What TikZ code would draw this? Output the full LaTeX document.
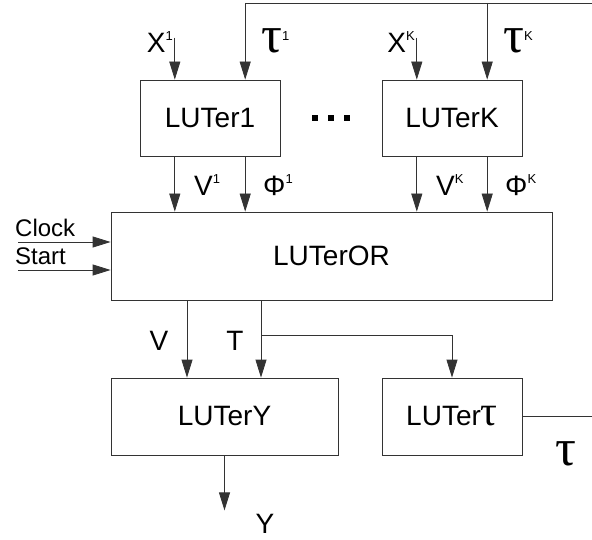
\documentclass[tikz,border=0pt]{standalone}
\usepackage{fontspec}
\setmainfont{Liberation Sans}
\newfontfamily\greekfont{Liberation Serif}
\usetikzlibrary{arrows.meta,positioning,calc}
\definecolor{linegray}{gray}{0.2}
\newcommand{\upidx}[1]{\raisebox{12pt}{\fontsize{13}{13}\selectfont #1}}
\newcommand{\tausym}{{\greekfont\fontsize{52}{52}\selectfont τ}}

\begin{document}
\begin{tikzpicture}[x=1pt,y=-1pt,
    block/.style={draw=linegray, line width=0.8pt, fill=white, inner sep=0pt,
                  font=\fontsize{28}{30}\selectfont},
    wire/.style={draw=linegray, line width=0.8pt},
    arr/.style={wire, -{Triangle[length=18pt,width=11pt]}},
    lbl/.style={inner sep=0pt, font=\fontsize{28}{30}\selectfont},
    small/.style={inner sep=0pt, font=\fontsize{24}{26}\selectfont}]
    \useasboundingbox (0,0) rectangle (592,540);

    % blocks
    \node[block, minimum width=140, minimum height=76] (lut1) at (210,118) {LUTer1};
    \node[block, minimum width=140, minimum height=76] (lutK) at (452,118) {LUTerK};
    \node[block, minimum width=441, minimum height=88] (lutor) at (331.5,256) {LUTerOR};
    \node[block, minimum width=227, minimum height=77] (luty) at (224.5,416.5) {LUTerY};
    \node[block, minimum width=140, minimum height=77] (luttau) at (452,416.5)
        {LUTer{\greekfont\fontsize{42}{42}\selectfont τ}};

    % dots between the first and the last block
    \foreach \dx in {315,331,347} {
        \fill[black] (\dx-3,115) rectangle (\dx+3,121);
    }

    % ports on the blocks
    \path (lut1.north west) -- (lut1.north east) coordinate[pos=0.25] (x1in) coordinate[pos=0.75] (t1in);
    \path (lutK.north west) -- (lutK.north east) coordinate[pos=0.25] (xKin) coordinate[pos=0.75] (tKin);
    \path (lut1.south west) -- (lut1.south east) coordinate[pos=0.25] (v1out) coordinate[pos=0.75] (f1out);
    \path (lutK.south west) -- (lutK.south east) coordinate[pos=0.25] (vKout) coordinate[pos=0.75] (fKout);
    \coordinate (vout) at (lutor.south -| 187,0);
    \coordinate (tout) at (lutor.south -| 261,0);

    % inputs of LUTer1 ... LUTerK
    \draw[arr] (x1in) ++(0,-42) -- (x1in);
    \draw[arr] (xKin) ++(0,-42) -- (xKin);
    \node[lbl, anchor=base east] (x1lbl) at (173,53) {X\upidx{1}};
    \node[lbl, anchor=base east] (xKlbl) at (415,53) {X\upidx{K}};

    % feedback of tau
    \coordinate (fbtop) at (t1in |- 0,3);
    \draw[wire] (luttau.east) -- ++(80,0) coordinate (fbr) |- (fbtop);
    \draw[arr] (fbtop) -- (t1in);
    \draw[arr] (fbtop -| tKin) -- (tKin);
    \node[inner sep=0pt, anchor=base west] (t1lbl) at (261,53) {\tausym\upidx{1}};
    \node[inner sep=0pt, anchor=base west] (tKlbl) at (503,53) {\tausym\upidx{K}};

    % into LUTerOR
    \draw[arr] (v1out) -- (v1out |- lutor.north);
    \draw[arr] (f1out) -- (f1out |- lutor.north);
    \draw[arr] (vKout) -- (vKout |- lutor.north);
    \draw[arr] (fKout) -- (fKout |- lutor.north);
    \node[lbl, anchor=base west] (v1lbl) at (194,196) {V\upidx{1}};
    \node[lbl, anchor=base west] (f1lbl) at (263,196) {Φ\upidx{1}};
    \node[lbl, anchor=base west] (vKlbl) at (436,196) {V\upidx{K}};
    \node[lbl, anchor=base west] (fKlbl) at (505,196) {Φ\upidx{K}};

    % Clock and Start
    \coordinate (clk) at (18,242);
    \coordinate (st) at (18,270);
    \draw[arr] (clk) -- (clk -| lutor.west);
    \draw[arr] (st) -- (st -| lutor.west);
    \node[small, anchor=base west] (clklbl) at (15,237) {Clock};
    \node[small, anchor=base west] (stlbl) at (15,265) {Start};

    % LUTerOR outputs
    \draw[arr] (vout) -- (vout |- luty.north);
    \draw[arr] (tout) -- (tout |- luty.north);
    \draw[arr] (tout |- 0,335) coordinate (tbr) -| (luttau.north);
    \node[lbl, anchor=base] (vlbl) at (159,350) {V};
    \node[lbl, anchor=base] (tlbl) at (235,350) {T};

    % outputs
    \coordinate (yout) at (luty.south);
    \draw[arr] (yout) -- ++(0,55) coordinate (yend);
    \node[lbl, anchor=base] (ylbl) at (265,533) {Y};
    \node[inner sep=0pt, anchor=base] (taulbl) at (566,465) {\tausym};
\end{tikzpicture}
\end{document}
